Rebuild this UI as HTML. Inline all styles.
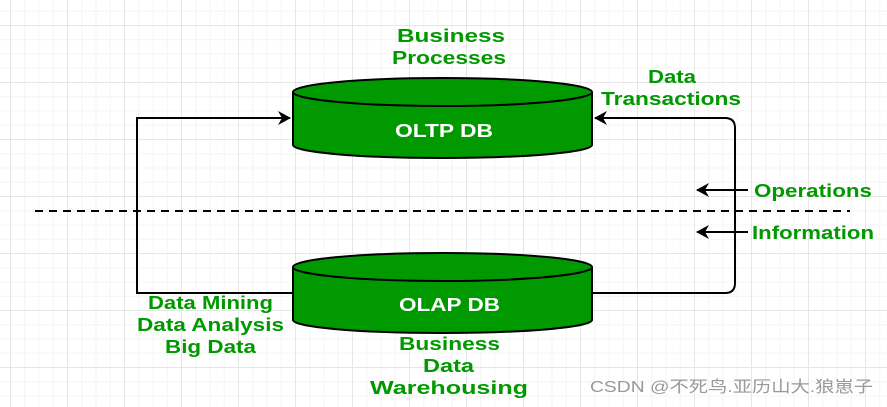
<!DOCTYPE html>
<html><head><style>
html,body{margin:0;padding:0;background:#fff}
body{width:887px;height:407px;overflow:hidden;
background-image:
linear-gradient(#e6e6e6 1px,transparent 1px),
linear-gradient(90deg,#e6e6e6 1px,transparent 1px),
linear-gradient(#f4f4f4 1px,transparent 1px),
linear-gradient(90deg,#f4f4f4 1px,transparent 1px);
background-size:57px 57px,57px 57px,14.25px 14.25px,14.25px 14.25px;
background-position:10px 25px,10px 25px,10px 25px,10px 25px;}
svg{position:absolute;left:0;top:0}
text{font-family:"Liberation Sans",Arial,sans-serif;font-weight:bold}
.g{fill:#009900;font-size:18px}
</style></head><body>
<svg width="887" height="407" viewBox="0 0 887 407">
<defs><marker id="a" markerWidth="14" markerHeight="14" refX="12" refY="7" orient="auto" markerUnits="userSpaceOnUse"><path d="M0,0 L13,7 L0,14 L4,7 z" fill="#000"/></marker></defs>
<!-- OLTP -->
<path d="M293,92 L293,145 A149.5,13 0 0 0 592,145 L592,92" fill="#009900" stroke="#000" stroke-width="2"/>
<ellipse cx="442.5" cy="92" rx="149.5" ry="14" fill="#009900" stroke="#000" stroke-width="2"/>
<text x="395" y="137" fill="#fff" font-size="18" textLength="98" lengthAdjust="spacingAndGlyphs">OLTP DB</text>
<!-- OLAP -->
<path d="M293,267 L293,320 A149.5,13 0 0 0 592,320 L592,267" fill="#009900" stroke="#000" stroke-width="2"/>
<ellipse cx="442.5" cy="267" rx="149.5" ry="14" fill="#009900" stroke="#000" stroke-width="2"/>
<text x="399" y="311" fill="#fff" font-size="18" textLength="101" lengthAdjust="spacingAndGlyphs">OLAP DB</text>
<!-- connectors -->
<path d="M293,293 L137,293 L137,118 L290,118" fill="none" stroke="#000" stroke-width="2" marker-end="url(#a)"/>
<path d="M592,293 L725,293 Q735,293 735,283 L735,128 Q735,118 725,118 L595,118" fill="none" stroke="#000" stroke-width="2" marker-end="url(#a)"/>
<line x1="35" y1="211" x2="850" y2="211" stroke="#000" stroke-width="2" stroke-dasharray="8,6"/>
<line x1="748" y1="190" x2="697" y2="190" stroke="#000" stroke-width="2" marker-end="url(#a)"/>
<line x1="748" y1="232" x2="697" y2="232" stroke="#000" stroke-width="2" marker-end="url(#a)"/>
<!-- labels -->
<text class="g" x="397" y="42" textLength="108" lengthAdjust="spacingAndGlyphs">Business</text>
<text class="g" x="392" y="64" textLength="114" lengthAdjust="spacingAndGlyphs">Processes</text>
<text class="g" x="648" y="83" textLength="48" lengthAdjust="spacingAndGlyphs">Data</text>
<text class="g" x="601" y="105" textLength="140" lengthAdjust="spacingAndGlyphs">Transactions</text>
<text class="g" x="754" y="197" textLength="118" lengthAdjust="spacingAndGlyphs">Operations</text>
<text class="g" x="752" y="239" textLength="122" lengthAdjust="spacingAndGlyphs">Information</text>
<text class="g" x="148" y="309" textLength="125" lengthAdjust="spacingAndGlyphs">Data Mining</text>
<text class="g" x="137" y="331" textLength="147" lengthAdjust="spacingAndGlyphs">Data Analysis</text>
<text class="g" x="165" y="353" textLength="91" lengthAdjust="spacingAndGlyphs">Big Data</text>
<text class="g" x="399" y="350" textLength="101" lengthAdjust="spacingAndGlyphs">Business</text>
<text class="g" x="423" y="372" textLength="51" lengthAdjust="spacingAndGlyphs">Data</text>
<text class="g" x="370" y="394" font-size="20" textLength="158" lengthAdjust="spacingAndGlyphs">Warehousing</text>
<text x="590" y="392" fill="#999" font-size="16" textLength="283" lengthAdjust="spacingAndGlyphs" style="font-weight:normal;font-family:'Liberation Sans','Noto Sans CJK SC',sans-serif">CSDN @不死鸟.亚历山大.狼崽子</text>
</svg>
</body></html>
